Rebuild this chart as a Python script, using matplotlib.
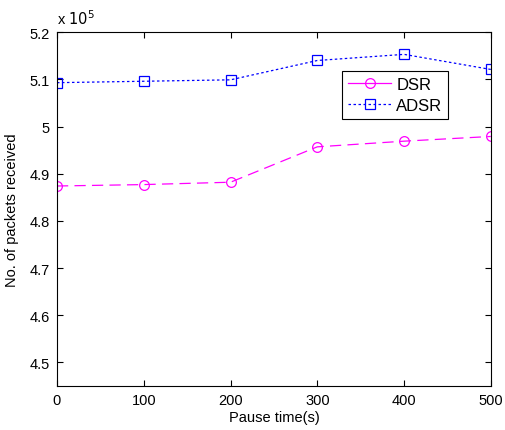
import matplotlib.pyplot as plt
from matplotlib.lines import Line2D

# pause time (s) and packets received
pause_time = [0, 100, 200, 300, 400, 500]
dsr = [487400, 487700, 488200, 495700, 496900, 497900]
adsr = [509300, 509600, 509900, 514000, 515300, 512100]

plt.rcParams['font.family'] = ['Liberation Sans', 'DejaVu Sans']

fig = plt.figure(figsize=(5.06, 4.31), dpi=100)
ax = fig.add_axes([0.1126, 0.102, 0.8574, 0.821])

scale = 1e5
ax.plot(pause_time, [v / scale for v in dsr], color='#ff00ff', linestyle=(0, (9, 5)),
        linewidth=0.9, marker='o', markersize=7, markerfacecolor='none',
        markeredgecolor='#ff00ff', markeredgewidth=0.9)
ax.plot(pause_time, [v / scale for v in adsr], color='#0000ff', linestyle=(0, (2, 2)),
        linewidth=0.9, marker='s', markersize=7, markerfacecolor='none',
        markeredgecolor='#0000ff', markeredgewidth=0.9)

ax.set_xlim(0, 500)
ax.set_ylim(4.45, 5.2)
ax.set_xticks([0, 100, 200, 300, 400, 500])
ax.set_yticks([4.5, 4.6, 4.7, 4.8, 4.9, 5.0, 5.1, 5.2])
ax.set_yticklabels(['4.5', '4.6', '4.7', '4.8', '4.9', '5', '5.1', '5.2'])
ax.tick_params(direction='in', top=True, right=True, length=4, width=0.8,
               labelsize=10.5, pad=5)
for s in ax.spines.values():
    s.set_linewidth(0.8)

ax.set_xlabel('Pause time(s)', fontsize=10.5, labelpad=2)
ax.set_ylabel('No. of packets received', fontsize=10.5, labelpad=8)
ax.text(0.0, 1.015, r'x $10^5$', transform=ax.transAxes, fontsize=10.5,
        ha='left', va='bottom')

handles = [
    Line2D([], [], color='#ff00ff', linestyle='-', linewidth=0.9, marker='o',
           markersize=7, markerfacecolor='none', markeredgewidth=0.9),
    Line2D([], [], color='#0000ff', linestyle=(0, (2, 2)), linewidth=0.9, marker='s',
           markersize=7, markerfacecolor='none', markeredgewidth=0.9),
]
leg = ax.legend(handles, ['DSR', 'ADSR'], loc='upper left',
                bbox_to_anchor=(0.657, 0.89), borderaxespad=0, fontsize=12,
                fancybox=False, framealpha=1, edgecolor='black', handlelength=2.6,
                borderpad=0.35, labelspacing=0.35, handletextpad=0.3)
leg.get_frame().set_linewidth(0.8)

fig.savefig('out.png', dpi=100)
